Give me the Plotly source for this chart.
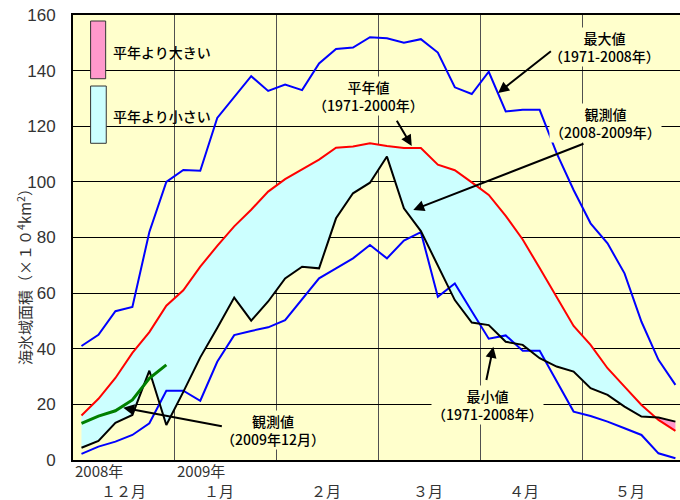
import numpy as np
import plotly.graph_objects as go

# Sea-ice extent (x10^4 km^2), one value per 5-day period (半旬), Dec -> May
max_1971_2008 = [41, 45, 53.5, 55, 82, 100, 104.3, 104, 123, 130.5, 138, 132.7,
                 135, 133, 142.6, 147.8, 148.3, 152, 151.6, 150, 151.3, 146.5, 134, 131.6,
                 139.6, 125.3, 125.9, 125.9, 110.3, 97.1, 85.1, 77.9, 67.1, 49.7, 36, 27]
min_1971_2008 = [2.2, 4.8, 6.6, 9, 13.2, 24.9, 24.9, 21.3, 35.3, 44.9, 46.4, 47.7,
                 50.3, 57.8, 65.3, 68.9, 72.5, 77.3, 72.5, 78.9, 81.9, 58.7, 63.5, 53.5,
                 43.6, 44.8, 39.3, 39.3, 28.5, 17.4, 15.8, 13.8, 11.4, 9, 2.4, 0.6]
normal_1971_2000 = [16, 22, 29.5, 38.5, 46, 55.5, 61, 69.5, 77, 84, 90, 96.5,
                    101, 104.5, 108, 112.3, 112.7, 113.9, 112.9, 112.2, 112.2, 106.2, 104.2, 99.8,
                    95.3, 87.8, 79.3, 69, 58.5, 48.2, 41.4, 33, 26.4, 19.8, 14.4, 10.5]
observed_2008_2009 = [4.4, 6.9, 13.4, 16.2, 32.1, 12.6, 24.5, 36.9, 47.5, 58.4, 50.1, 57,
                      65.3, 69.5, 68.9, 86.9, 95.9, 99.7, 109.1, 90.5, 82.3, 69.9, 57.5, 49.4,
                      48.5, 42.5, 41.4, 36.6, 33.6, 31.8, 25.8, 23.4, 19.2, 15.6, 15.3, 13.8]
observed_dec_2009 = [13.2, 15.8, 17.7, 21.6, 29.4, 34.2]

year_labels = ["2008年", "2009年"]
month_labels = ["１２月", "１月", "２月", "３月", "４月", "５月"]

# each month holds 6 periods; a period is drawn at its centre
n = len(normal_1971_2000)
x = np.arange(n) + 0.5
x_dec = np.arange(len(observed_dec_2009)) + 0.5


def insert_crossings(xs, a, b):
    """Return x, a, b with the points where a and b cross added in."""
    xo, ao, bo = [xs[0]], [a[0]], [b[0]]
    for i in range(len(xs) - 1):
        d0, d1 = a[i] - b[i], a[i + 1] - b[i + 1]
        if d0 * d1 < 0:
            t = d0 / (d0 - d1)
            xc = xs[i] + t * (xs[i + 1] - xs[i])
            yc = a[i] + t * (a[i + 1] - a[i])
            xo.append(xc); ao.append(yc); bo.append(yc)
        xo.append(xs[i + 1]); ao.append(a[i + 1]); bo.append(b[i + 1])
    return np.array(xo), np.array(ao), np.array(bo)


xf, obs_f, norm_f = insert_crossings(x, np.array(observed_2008_2009, float),
                                     np.array(normal_1971_2000, float))

BLUE = "#0000FF"
RED = "#FF0000"
GREEN = "#008000"
CYAN = "#CCFFFF"
PINK = "#FF99CC"
BG = "#FFFFCC"
JP = "Noto Sans CJK JP, sans-serif"

fig = go.Figure()
helper = dict(mode="lines", line=dict(width=0), hoverinfo="skip", showlegend=False)

# below normal: cyan band between observed and normal
fig.add_trace(go.Scatter(x=xf, y=np.minimum(obs_f, norm_f), **helper))
fig.add_trace(go.Scatter(x=xf, y=norm_f, fill="tonexty", fillcolor=CYAN, **helper))
# above normal: pink band
fig.add_trace(go.Scatter(x=xf, y=norm_f, **helper))
fig.add_trace(go.Scatter(x=xf, y=np.maximum(obs_f, norm_f), fill="tonexty", fillcolor=PINK, **helper))

fig.add_trace(go.Scatter(x=x, y=max_1971_2008, mode="lines", line=dict(color=BLUE, width=2),
                         showlegend=False, name="最大値"))
fig.add_trace(go.Scatter(x=x, y=min_1971_2008, mode="lines", line=dict(color=BLUE, width=2),
                         showlegend=False, name="最小値"))
fig.add_trace(go.Scatter(x=x, y=normal_1971_2000, mode="lines", line=dict(color=RED, width=2),
                         showlegend=False, name="平年値"))
fig.add_trace(go.Scatter(x=x, y=observed_2008_2009, mode="lines", line=dict(color="#000000", width=2),
                         showlegend=False, name="観測値"))
fig.add_trace(go.Scatter(x=x_dec, y=observed_dec_2009, mode="lines", line=dict(color=GREEN, width=3),
                         showlegend=False, name="観測値(2009年12月)"))

annotations = []


def label(text, xc, yc):
    annotations.append(dict(x=xc, y=yc, xref="x", yref="y", text=text, showarrow=False,
                            xanchor="center", yanchor="middle",
                            font=dict(family=JP, size=14, color="#000000", weight=500),
                            bgcolor=BG, borderpad=0, align="center"))


def arrow(x_head, y_head, x_tail, y_tail):
    annotations.append(dict(x=x_head, y=y_head, ax=x_tail, ay=y_tail, xref="x", yref="y",
                            axref="x", ayref="y", text="", showarrow=True,
                            arrowhead=2, arrowsize=1.1, arrowwidth=2, arrowcolor="#000000"))


label("最大値<br>（1971-2008年）", 31.35, 148.5)
arrow(25.05, 132.0, 28.25, 147.4)
label("平年値<br>（1971-2000年）", 17.4, 130.7)
arrow(19.96, 112.9, 19.03, 122.5)
label("観測値<br>（2008-2009年）", 31.4, 121.2)
arrow(20.05, 89.9, 30.17, 113.9)
label("最小値<br>（1971-2008年）", 24.4, 19.6)
arrow(24.77, 40.7, 24.34, 28.2)
label("観測値<br>（2009年12月）", 11.8, 10.8)
arrow(2.96, 18.8, 8.86, 12.0)

# year / month captions below the axis
for xv, t in zip([0, 6], year_labels):
    annotations.append(dict(x=xv, y=-0.024, xref="x", yref="paper", text=t, showarrow=False,
                            xanchor="left", yanchor="middle",
                            font=dict(family=JP, size=15, color="#333333")))
for xv, t in zip([3.0, 8.6, 14.9, 20.9, 26.6, 32.8], month_labels):
    annotations.append(dict(x=xv, y=-0.068, xref="x", yref="paper", text=t, showarrow=False,
                            xanchor="center", yanchor="middle",
                            font=dict(family=JP, size=15, color="#333333")))

# y-axis title
annotations.append(dict(x=-0.081, y=0.42, xref="paper", yref="paper",
                        xanchor="center", yanchor="middle",
                        text="海氷域面積（×１０<sup>4</sup>km<sup>2</sup>）", showarrow=False,
                        textangle=-90, font=dict(family=JP, size=15, color="#333333")))

# colour key
annotations.append(dict(x=0.062, y=0.9175, xref="paper", yref="paper", text="平年より大きい",
                        showarrow=False, xanchor="left", yanchor="middle",
                        font=dict(family=JP, size=14, color="#000000", weight=500)))
annotations.append(dict(x=0.062, y=0.7737, xref="paper", yref="paper", text="平年より小さい",
                        showarrow=False, xanchor="left", yanchor="middle",
                        font=dict(family=JP, size=14, color="#000000", weight=500)))

shapes = [
    dict(type="rect", xref="paper", yref="paper", x0=0.029, x1=0.0538, y0=0.8568, y1=0.9865,
         fillcolor=PINK, line=dict(color="#333333", width=1)),
    dict(type="rect", xref="paper", yref="paper", x0=0.029, x1=0.0548, y0=0.7117, y1=0.8404,
         fillcolor=CYAN, line=dict(color="#333333", width=1)),
]

fig.update_layout(
    width=680, height=500, autosize=False,
    margin=dict(l=73, r=0, t=15, b=40),
    paper_bgcolor="white", plot_bgcolor=BG,
    showlegend=False,
    annotations=annotations, shapes=shapes,
    xaxis=dict(range=[0, 35.77], tickvals=[0, 6, 12, 18, 24, 30, 36], showticklabels=False,
               showgrid=True, gridcolor="#505050", gridwidth=1, zeroline=False,
               showline=True, linecolor="#000000", linewidth=2, mirror=True, ticks=""),
    yaxis=dict(range=[0, 160], dtick=20, showgrid=True, gridcolor="#000000", gridwidth=1,
               zeroline=False, showline=True, linecolor="#000000", linewidth=2,
               ticks="outside", ticklen=12, tickcolor="rgba(0,0,0,0)",
               tickfont=dict(family="Liberation Sans Narrow, Liberation Sans, sans-serif",
                             size=17, color="#333333")),
)

fig.write_html("out.html")
